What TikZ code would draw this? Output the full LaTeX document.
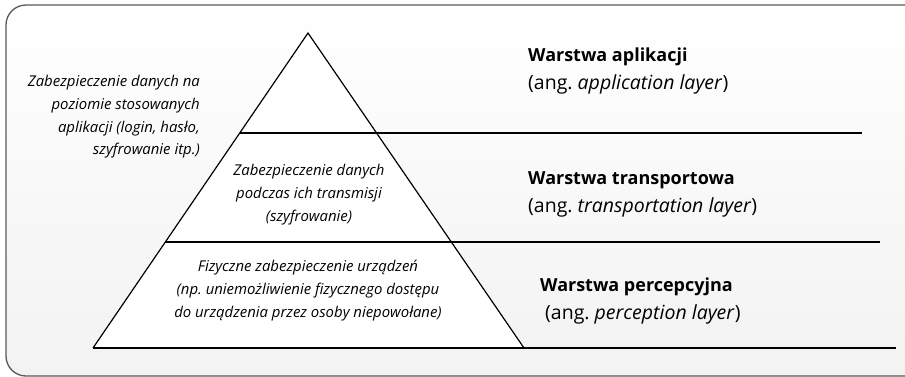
\documentclass[tikz,border=0pt]{standalone}
\usepackage{fontspec}
\setmainfont{Open Sans}
\begin{document}
\begin{tikzpicture}[x=1pt,y=-1pt,
  frame/.style={draw=black!65, line width=1.3pt, rounded corners=20pt},
  layerline/.style={draw=black, line width=1.2pt},
  desc/.style={font=\fontsize{14.9}{22.8}\selectfont\itshape, inner sep=0pt},
  title/.style={font=\fontsize{18}{27}\selectfont\bfseries, inner sep=0pt, anchor=west},
  sub/.style={font=\fontsize{19.5}{27}\selectfont, inner sep=0pt, anchor=west}]
\useasboundingbox (0,0) rectangle (905,376);
\clip (0,0) rectangle (905,376);
\shade[left color=white, right color=black!5, shading angle=0, rounded corners=20pt]
  (6,5) rectangle (926,376);
\fill[white] (308,33) -- (524,348) -- (93,348) -- cycle;
\draw[frame] (6,5) rectangle (926,376);
% pyramid
\coordinate (apex) at (308,33);
\coordinate (bl) at (93,348);
\coordinate (br) at (524,348);
\coordinate (l1) at (240,133);
\coordinate (r1) at (862,133);
\coordinate (l2) at (165,242);
\coordinate (r2) at (880,242);
\coordinate (r3) at (896,348);
\draw[layerline, line join=miter] (bl) -- (apex) -- (br);
\draw[layerline] (l1) -- (r1);
\draw[layerline] (l2) -- (r2);
\draw[layerline] (bl) -- (r3);
% descriptions
\node[desc, align=right, anchor=north east] (d1) at (200,75)
  {Zabezpieczenie danych na\\poziomie stosowanych\\aplikacji (login, hasło,\\szyfrowanie itp.)};
\node[desc, align=center, anchor=north] (d2) at (309,164)
  {Zabezpieczenie danych\\podczas ich transmisji\\(szyfrowanie)};
\node[desc, align=center, anchor=north] (d3) at (308,260)
  {Fizyczne zabezpieczenie urządzeń\\(np.\ uniemożliwienie fizycznego dostępu\\do urządzenia przez osoby niepowołane)};
% layer names
\node[title] (t1) at (528,57) {Warstwa aplikacji};
\node[sub] (s1) at (528,84) {(ang.\ \textit{application layer})};
\node[title] (t2) at (528,180) {Warstwa transportowa};
\node[sub] (s2) at (528,207) {(ang.\ \textit{transportation layer})};
\node[title] (t3) at (540,287) {Warstwa percepcyjna};
\node[sub] (s3) at (545,314) {(ang.\ \textit{perception layer})};
\end{tikzpicture}
\end{document}
